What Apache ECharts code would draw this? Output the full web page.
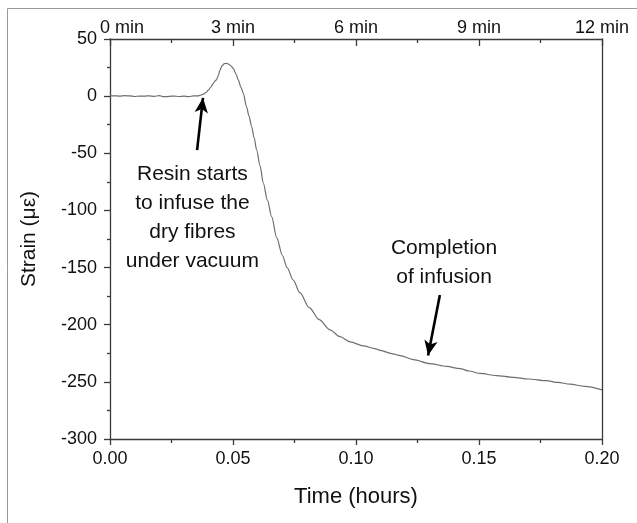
<!DOCTYPE html>
<html>
<head>
<meta charset="utf-8">
<script src="https://cdn.jsdelivr.net/npm/echarts@6/dist/echarts.min.js"></script>
<style>
html,body{margin:0;padding:0;background:#fff;}
#chart{width:637px;height:523px;}
</style>
</head>
<body>
<div id="chart"></div>
<script>
// ---- data ----
const timeHours = [
  0.000,0.002,0.004,0.006,0.008,0.010,0.012,0.014,0.016,0.018,0.020,0.022,0.024,0.026,0.028,0.030,0.032,0.034,0.036,
  0.037,0.038,0.039,0.040,0.041,0.042,0.0428,0.0434,0.0440,0.0447,0.0455,0.0465,0.0474,0.0482,0.0490,0.0501,
  0.0512,0.0522,0.0532,0.0542,0.0555,0.0565,0.0576,0.0586,0.0596,0.0610,0.0623,0.0640,0.0657,0.0678,0.0700,
  0.0720,0.0745,0.0772,0.0810,0.0850,0.0894,0.0935,0.0976,0.1030,0.1077,0.1098,0.1150,0.1179,0.1233,0.1300,0.1369,
  0.1423,0.1460,0.1504,0.1570,0.1640,0.1700,0.1775,0.1820,0.1870,0.1930,0.2000
];
const strainMicro = [
  0.5,0.3,0.0,0.4,0.2,-0.3,0.1,0.0,0.3,-0.2,0.4,-0.5,-0.2,0.1,-0.3,0.0,-0.4,0.2,0.3,
  1.0,1.8,3.2,5.3,8.0,11.2,13.5,14.7,18.0,22.8,26.5,28.4,28.7,28.0,26.8,24.3,
  19.5,14.0,8.0,2.4,-9.3,-17.5,-26.8,-36.5,-47,-61,-76,-91,-105.5,-124,-139,
  -150,-161,-172,-185,-195.5,-204.5,-210.5,-215,-218.5,-221,-222.5,-225.5,-227,-230.5,-234,-236.5,
  -238.5,-240.5,-242.6,-244.5,-246,-247.5,-249,-250.5,-252,-254,-257
];
const topMinuteTicks = [0, 3, 6, 9, 12];
const annotations = [
  { text: 'Resin starts\nto infuse the\ndry fibres\nunder vacuum', at: [0.0335, -106.7] },
  { text: 'Completion\nof infusion', at: [0.1358, -145.6] }
];
const arrows = [
  { from: [0.0354, -47.2], to: [0.0378, -1.5] },
  { from: [0.1341, -174], to: [0.1293, -227] }
];

// ---- chart ----
const chart = echarts.init(document.getElementById('chart'), null, {renderer: 'canvas'});
const FONT = 'Liberation Sans, Arial, sans-serif';
const axisColor = '#3a3a3a';
const TICKFONT = 18;

const option = {
  animation: false,
  backgroundColor: '#fff',
  graphic: [{
    type: 'rect', silent: true,
    shape: {x: 7.5, y: 8.5, width: 700, height: 600},
    style: {fill: 'none', stroke: '#9a9a9a', lineWidth: 1}
  }],
  grid: {left: 110, right: 35, top: 39, bottom: 84, containLabel: false},
  xAxis: [
    {
      type: 'value', position: 'bottom', min: 0, max: 0.2, interval: 0.05,
      name: 'Time (hours)', nameLocation: 'middle', nameGap: 47,
      nameTextStyle: {fontFamily: FONT, fontSize: 22, color: '#111'},
      axisLine: {show: true, onZero: false, lineStyle: {color: axisColor, width: 1.3}},
      axisTick: {show: true, inside: false, length: 6, lineStyle: {color: axisColor, width: 1.3}},
      minorTick: {show: true, splitNumber: 2, length: 4, lineStyle: {color: axisColor, width: 1.3}},
      axisLabel: {fontFamily: FONT, fontSize: TICKFONT, color: '#111', margin: 11,
        formatter: v => v.toFixed(2)},
      splitLine: {show: false}
    },
    {
      type: 'value', position: 'top', min: 0, max: 12, interval: 3,
      axisLine: {show: true, onZero: false, lineStyle: {color: axisColor, width: 1.3}},
      axisTick: {show: true, inside: true, length: 7, lineStyle: {color: axisColor, width: 1.3}},
      minorTick: {show: true, splitNumber: 2, length: 4, lineStyle: {color: axisColor, width: 1.3}},
      axisLabel: {fontFamily: FONT, fontSize: TICKFONT, color: '#111', margin: 2,
        customValues: topMinuteTicks,
        formatter: v => v === 0 ? '{first|0 min}' : v + ' min',
        rich: {first: {fontFamily: FONT, fontSize: TICKFONT, color: '#111', padding: [0, 0, 0, 24]}}},
      splitLine: {show: false}
    }
  ],
  yAxis: [
    {
      type: 'value', position: 'left', min: -300, max: 50, interval: 50,
      name: 'Strain (\u03bc\u03b5)', nameLocation: 'middle', nameGap: 70, nameRotate: 90,
      nameTextStyle: {fontFamily: FONT, fontSize: 21, color: '#111'},
      axisLine: {show: true, onZero: false, lineStyle: {color: axisColor, width: 1.3}},
      axisTick: {show: true, inside: false, length: 6, lineStyle: {color: axisColor, width: 1.3}},
      minorTick: {show: true, splitNumber: 2, length: 3, lineStyle: {color: axisColor, width: 1.3}},
      axisLabel: {fontFamily: FONT, fontSize: TICKFONT, color: '#111', margin: 13},
      splitLine: {show: false}
    },
    {
      type: 'value', position: 'right', min: -300, max: 50, interval: 50,
      axisLine: {show: true, onZero: false, lineStyle: {color: axisColor, width: 1.3}},
      axisTick: {show: false}, axisLabel: {show: false}, splitLine: {show: false}
    }
  ],
  series: [{
    type: 'line',
    xAxisIndex: 0, yAxisIndex: 0,
    data: timeHours.map((t, i) => [t, strainMicro[i]]),
    showSymbol: false, symbol: 'none', smooth: 0.3, smoothMonotone: 'x',
    lineStyle: {color: '#6e6e6e', width: 1.2},
    markLine: {
      silent: true, animation: false,
      symbolSize: [10, 15],
      label: {show: false},
      lineStyle: {color: '#000', width: 2.6, type: 'solid'},
      data: arrows.map(a => [
        {coord: a.from, symbol: 'none'},
        {coord: a.to, symbol: 'arrow'}
      ])
    },
    markPoint: {
      silent: true, animation: false,
      symbol: 'circle', symbolSize: 0,
      label: {show: true, position: 'inside', fontFamily: FONT, fontSize: 21,
        lineHeight: 29, color: '#111', align: 'center', verticalAlign: 'middle',
        formatter: p => p.name},
      data: annotations.map(a => ({name: a.text, coord: a.at}))
    }
  }]
};
chart.setOption(option);
</script>
</body>
</html>
